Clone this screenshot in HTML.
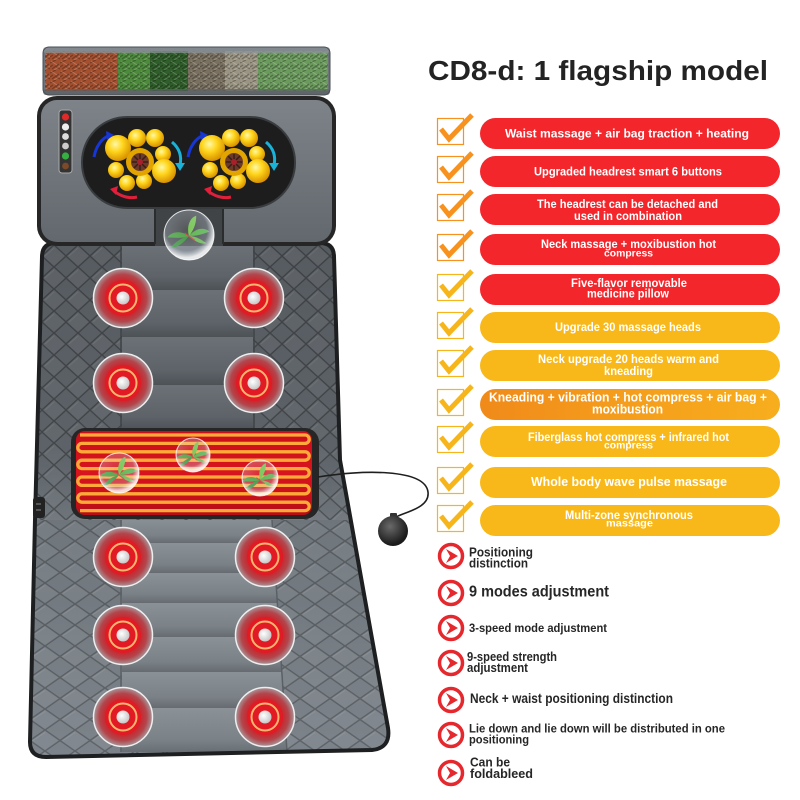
<!DOCTYPE html>
<html><head><meta charset="utf-8"><style>
html,body{margin:0;padding:0;background:#fff;}
svg{display:block;}
text{font-family:"Liberation Sans",sans-serif;font-weight:bold;}
</style></head><body>
<svg width="800" height="800" viewBox="0 0 800 800" xmlns="http://www.w3.org/2000/svg">
<defs>
 <linearGradient id="matg" x1="0" y1="0" x2="0" y2="1">
   <stop offset="0" stop-color="#565b60"/>
   <stop offset="0.4" stop-color="#5c6267"/>
   <stop offset="0.55" stop-color="#6f767c"/>
   <stop offset="1" stop-color="#7c838a"/>
 </linearGradient>
 <pattern id="quilt" width="24" height="22" patternUnits="userSpaceOnUse" x="42" y="245">
   <path d="M0,11 L12,0 L24,11 L12,22 Z" fill="rgba(255,255,255,0.04)" stroke="rgba(0,0,0,0.3)" stroke-width="1.4"/>
   <path d="M3,11 L12,3" stroke="rgba(255,255,255,0.07)" stroke-width="1" fill="none"/>
 </pattern>
 <pattern id="quilt2" width="30" height="21" patternUnits="userSpaceOnUse" x="30" y="520">
   <path d="M0,10.5 L15,0 L30,10.5 L15,21 Z" fill="rgba(255,255,255,0.05)" stroke="rgba(0,0,0,0.25)" stroke-width="1.4"/>
   <path d="M3,10.5 L15,2.5" stroke="rgba(255,255,255,0.09)" stroke-width="1" fill="none"/>
 </pattern>
 <clipPath id="matclip">
   <path d="M42,257 Q42,243 56,243 L320,243 Q334,243 334,257 L340,460 L388,728 Q391,748 372,750 L46,757 Q30,757 30,742 L35,520 Z"/>
 </clipPath>
 <linearGradient id="segU" x1="0" y1="0" x2="0" y2="1">
   <stop offset="0" stop-color="#6b7176"/><stop offset="0.7" stop-color="#5d6368"/><stop offset="1" stop-color="#4d5257"/>
 </linearGradient>
 <linearGradient id="segL" x1="0" y1="0" x2="0" y2="1">
   <stop offset="0" stop-color="#8a9197"/><stop offset="0.7" stop-color="#7a8187"/><stop offset="1" stop-color="#656b71"/>
 </linearGradient>
 <clipPath id="lowc"><polygon points="122,520 272,520 287,752 122,752"/></clipPath>
 <linearGradient id="headg" x1="0" y1="0" x2="0" y2="1">
   <stop offset="0" stop-color="#7d8388"/><stop offset="1" stop-color="#62686d"/>
 </linearGradient>
 <radialGradient id="ball" cx="0.4" cy="0.35" r="0.65">
   <stop offset="0" stop-color="#fff8a8"/><stop offset="0.45" stop-color="#ffd51c"/><stop offset="1" stop-color="#d99200"/>
 </radialGradient>
 <radialGradient id="node" cx="0.5" cy="0.5" r="0.5">
   <stop offset="0" stop-color="#d8222a"/><stop offset="0.6" stop-color="#c8282f"/><stop offset="0.8" stop-color="#b2464c"/><stop offset="1" stop-color="#a7979b"/>
 </radialGradient>
 <radialGradient id="dot" cx="0.4" cy="0.4" r="0.6">
   <stop offset="0" stop-color="#ffffff"/><stop offset="1" stop-color="#c8c8c8"/>
 </radialGradient>
 <radialGradient id="bub" cx="0.45" cy="0.4" r="0.55">
   <stop offset="0" stop-color="rgba(255,255,255,0.1)"/><stop offset="0.75" stop-color="rgba(210,220,235,0.3)"/><stop offset="1" stop-color="rgba(255,255,255,0.85)"/>
 </radialGradient>
 <radialGradient id="bulb" cx="0.4" cy="0.35" r="0.6">
   <stop offset="0" stop-color="#6a6a6a"/><stop offset="1" stop-color="#1b1b1b"/>
 </radialGradient>
 <linearGradient id="pad" x1="0" y1="0" x2="0" y2="1">
   <stop offset="0" stop-color="#c80f1a"/><stop offset="0.5" stop-color="#d8141e"/><stop offset="1" stop-color="#b80e18"/>
 </linearGradient>
 <linearGradient id="orangePill" x1="0" y1="0" x2="1" y2="0">
   <stop offset="0" stop-color="#f08a1a"/><stop offset="0.5" stop-color="#f59e1c"/><stop offset="1" stop-color="#f7ae1d"/>
 </linearGradient>
 <pattern id="tex" width="10" height="10" patternUnits="userSpaceOnUse">
   <path d="M0,3 L6,0 M2,9 L9,4 M5,6 L10,9 M0,7 L3,5" stroke="rgba(0,0,0,0.28)" stroke-width="1.2" fill="none"/>
   <path d="M1,1 L7,5 M4,10 L10,6" stroke="rgba(255,255,255,0.22)" stroke-width="1" fill="none"/>
 </pattern>
 <g id="leaf">
   <path d="M0,0 C-6,-4 -12,-3 -15,1 C-10,1 -5,2 0,0 Z" fill="#3d9a34"/>
   <path d="M0,0 C5,-6 11,-6 14,-3 C9,-1 5,0 0,0 Z" fill="#4aad3a"/>
   <path d="M0,0 C-2,-7 1,-13 5,-14 C5,-8 3,-4 0,0 Z" fill="#6cc045"/>
   <path d="M0,0 C-4,5 -9,9 -13,8 C-9,4 -5,1 0,0 Z" fill="#2f8a2d"/>
   <path d="M0,0 C4,4 9,6 12,5 C8,2 4,0 0,0 Z" fill="#5db43f"/>
   <path d="M-3,-2 L4,3" stroke="#c0392b" stroke-width="0.8"/>
 </g>
 <g id="nodeA">
  <circle cx="0" cy="0" r="29.5" fill="url(#node)" stroke="#eeeeee" stroke-width="1.5"/>
  <circle cx="0" cy="0" r="18" fill="#e11a24"/>
  <circle cx="0" cy="0" r="13.5" fill="none" stroke="#ffb470" stroke-width="2"/>
  <circle cx="0" cy="0" r="6.5" fill="url(#dot)"/>
 </g>
</defs>

<rect width="800" height="800" fill="#fff"/>

<!-- MAT -->
<path d="M42,257 Q42,243 56,243 L320,243 Q334,243 334,257 L340,460 L388,728 Q391,748 372,750 L46,757 Q30,757 30,742 L35,520 Z" fill="url(#matg)"/>
<g clip-path="url(#matclip)">
  <rect x="20" y="240" width="380" height="280" fill="url(#quilt)"/>
  <rect x="20" y="520" width="380" height="240" fill="url(#quilt2)"/>
  <rect x="122" y="245" width="131" height="45" fill="url(#segU)"/>
  <rect x="122" y="290" width="131" height="47" fill="url(#segU)"/>
  <rect x="122" y="337" width="131" height="48" fill="url(#segU)"/>
  <rect x="122" y="385" width="131" height="45" fill="url(#segU)"/>
  <line x1="121" y1="245" x2="121" y2="430" stroke="#3e4347" stroke-width="1.5"/>
  <line x1="254" y1="245" x2="254" y2="430" stroke="#3e4347" stroke-width="1.5"/>
  <g clip-path="url(#lowc)">
    <rect x="120" y="518" width="180" height="25" fill="url(#segL)"/>
    <rect x="120" y="543" width="180" height="30" fill="url(#segL)"/>
    <rect x="120" y="573" width="180" height="30" fill="url(#segL)"/>
    <rect x="120" y="603" width="180" height="34" fill="url(#segL)"/>
    <rect x="120" y="637" width="180" height="35" fill="url(#segL)"/>
    <rect x="120" y="672" width="180" height="36" fill="url(#segL)"/>
    <rect x="120" y="708" width="180" height="46" fill="url(#segL)"/>
  </g>
  <line x1="121" y1="520" x2="121" y2="752" stroke="#5a6066" stroke-width="1.5"/>
  <line x1="272" y1="520" x2="287" y2="752" stroke="#5a6066" stroke-width="1.5"/>
</g>
<path d="M42,257 Q42,243 56,243 L320,243 Q334,243 334,257 L340,460 L388,728 Q391,748 372,750 L46,757 Q30,757 30,742 L35,520 Z" fill="none" stroke="#1e1f20" stroke-width="4"/>

<!-- left connector -->
<rect x="33" y="497" width="12" height="21" rx="3" fill="#222"/>
<rect x="36" y="503" width="5" height="2" fill="#555"/>
<rect x="36" y="509" width="5" height="2" fill="#555"/>

<!-- HEADREST -->
<rect x="37" y="96" width="299" height="150" rx="20" fill="#262626"/>
<rect x="41" y="100" width="291" height="142" rx="16" fill="url(#headg)"/>
<rect x="155" y="200" width="68" height="46" fill="#404447"/>
<line x1="155" y1="205" x2="155" y2="244" stroke="#2a2c2e" stroke-width="2"/>
<line x1="223" y1="205" x2="223" y2="244" stroke="#2a2c2e" stroke-width="2"/>
<rect x="82" y="117" width="213" height="91" rx="45" fill="#1d1d1d" stroke="#3a3d40" stroke-width="2"/>

<!-- control panel -->
<rect x="59" y="110" width="13" height="63" rx="3" fill="#333" stroke="#aaa" stroke-width="1"/>
<circle cx="65.5" cy="117" r="3.6" fill="#e02a2a"/>
<circle cx="65.5" cy="127" r="3.6" fill="#eee"/>
<circle cx="65.5" cy="136.5" r="3.4" fill="#ddd"/>
<circle cx="65.5" cy="146" r="3.4" fill="#ccc"/>
<circle cx="65.5" cy="156" r="3.6" fill="#35b040"/>
<circle cx="65.5" cy="166" r="3.4" fill="#7a4a2a"/>

<!-- ball clusters -->
<g id="clusterL" transform="translate(140,162)">
  <path d="M-46,-5 C-44,-16 -38,-24 -30,-27" stroke="#1736d8" stroke-width="3" fill="none"/>
  <path d="M-34,-31 L-26,-27 L-33,-22 Z" fill="#1736d8"/>
  <path d="M32,-20 C39,-14 42,-6 40,3" stroke="#19b2d8" stroke-width="3" fill="none"/>
  <path d="M35,1 L40,9 L45,1 Z" fill="#19b2d8"/>
  <path d="M-3,35 C-11,37 -20,34 -26,29" stroke="#e0203a" stroke-width="3" fill="none"/>
  <path d="M-22,24 L-30,27 L-24,33 Z" fill="#e0203a"/>
  <circle cx="-22" cy="-14" r="13" fill="url(#ball)"/>
  <circle cx="-3" cy="-24" r="9" fill="url(#ball)"/>
  <circle cx="15" cy="-24" r="9" fill="url(#ball)"/>
  <circle cx="23" cy="-8" r="8" fill="url(#ball)"/>
  <circle cx="-24" cy="8" r="8" fill="url(#ball)"/>
  <circle cx="-13" cy="21" r="8" fill="url(#ball)"/>
  <circle cx="4" cy="19" r="8" fill="url(#ball)"/>
  <circle cx="0" cy="0" r="14" fill="#e2a400"/>
  <circle cx="0" cy="0" r="9" fill="#6b3a2a"/>
  <path d="M-8,0 L8,0 M0,-8 L0,8 M-6,-6 L6,6 M-6,6 L6,-6" stroke="#3a1e16" stroke-width="1.5"/>
  <circle cx="0" cy="0" r="3" fill="#a8202a"/>
  <circle cx="24" cy="9" r="12" fill="url(#ball)"/>
</g>
<use href="#clusterL" transform="translate(94,0)"/>

<!-- PILLOW -->
<rect x="43" y="47" width="287" height="48" rx="6" fill="#6d7378"/>
<rect x="45" y="51" width="73" height="40" fill="#a4502f"/>
<rect x="118" y="51" width="32" height="40" fill="#4d8a3c"/>
<rect x="150" y="51" width="38" height="40" fill="#2f5e2a"/>
<rect x="188" y="51" width="37" height="40" fill="#7a7060"/>
<rect x="225" y="51" width="33" height="40" fill="#9a9482"/>
<rect x="258" y="51" width="70" height="40" fill="#6a9a5c"/>
<rect x="45" y="51" width="283" height="40" fill="url(#tex)"/>
<rect x="43" y="47" width="287" height="6" rx="3" fill="rgba(140,148,152,0.7)"/>
<rect x="43" y="89" width="287" height="6" rx="3" fill="rgba(90,96,100,0.7)"/>
<rect x="43" y="47" width="287" height="48" rx="6" fill="none" stroke="#4a4f53" stroke-width="1"/>

<!-- neck bubble -->
<use href="#leaf" transform="translate(189,236) scale(1.45)"/>
<circle cx="189" cy="235" r="25" fill="url(#bub)" stroke="rgba(255,255,255,0.85)" stroke-width="1"/>

<!-- massage nodes -->
<use href="#nodeA" transform="translate(123,298)"/>
<use href="#nodeA" transform="translate(254,298)"/>
<use href="#nodeA" transform="translate(123,383)"/>
<use href="#nodeA" transform="translate(254,383)"/>
<use href="#nodeA" transform="translate(123,557)"/>
<use href="#nodeA" transform="translate(265,557)"/>
<use href="#nodeA" transform="translate(123,635)"/>
<use href="#nodeA" transform="translate(265,635)"/>
<use href="#nodeA" transform="translate(123,717)"/>
<use href="#nodeA" transform="translate(265,717)"/>

<!-- HEATING PAD -->
<rect x="71" y="428" width="248" height="91" rx="14" fill="#262626"/>
<rect x="76" y="431" width="236" height="84" rx="9" fill="url(#pad)"/>
<path d="M80,435 L305,435 A4.2,4.2 0 0 1 305,443.4 L82,443.4 A4.2,4.2 0 0 0 82,451.8 L305,451.8 A4.2,4.2 0 0 1 305,460.2 L82,460.2 A4.2,4.2 0 0 0 82,468.6 L305,468.6 A4.2,4.2 0 0 1 305,477 L82,477 A4.2,4.2 0 0 0 82,485.4 L305,485.4 A4.2,4.2 0 0 1 305,493.8 L82,493.8 A4.2,4.2 0 0 0 82,502.2 L305,502.2 A4.2,4.2 0 0 1 305,510.6 L80,510.6" fill="none" stroke="#ffaa38" stroke-width="3.3"/>
<use href="#leaf" transform="translate(119,475) scale(1.3)"/>
<circle cx="119" cy="473" r="20" fill="url(#bub)" stroke="rgba(255,255,255,0.8)" stroke-width="1"/>
<use href="#leaf" transform="translate(193,457) scale(1.1)"/>
<circle cx="193" cy="455" r="17" fill="url(#bub)" stroke="rgba(255,255,255,0.8)" stroke-width="1"/>
<use href="#leaf" transform="translate(260,480) scale(1.2)"/>
<circle cx="260" cy="478" r="18" fill="url(#bub)" stroke="rgba(255,255,255,0.8)" stroke-width="1"/>

<!-- cord & bulb -->
<path d="M318,477 C360,470 425,468 428,492 C430,508 405,512 396,517" fill="none" stroke="#1e1e1e" stroke-width="1.6"/>
<rect x="390" y="513" width="7" height="6" rx="1" fill="#333"/>
<circle cx="393" cy="531" r="15" fill="url(#bulb)"/>

<!-- TITLE -->
<text x="428" y="80" font-size="27.5" fill="#232323" textLength="340" lengthAdjust="spacingAndGlyphs">CD8-d: 1 flagship model</text>

<!-- CHECK ICONS -->
<g fill="none" stroke-linecap="butt" stroke-linejoin="miter">
  <g stroke="#f7921e">
    <rect x="437.5" y="118.5" width="26" height="26" stroke-width="1.2"/>
    <path d="M441,129 L449,139 L472,115" stroke-width="5"/>
    <rect x="437.5" y="156.5" width="26" height="26" stroke-width="1.2"/>
    <path d="M441,167 L449,177 L472,153" stroke-width="5"/>
    <rect x="437.5" y="194.5" width="26" height="26" stroke-width="1.2"/>
    <path d="M441,205 L449,215 L472,191" stroke-width="5"/>
    <rect x="437.5" y="234.5" width="26" height="26" stroke-width="1.2"/>
    <path d="M441,245 L449,255 L472,231" stroke-width="5"/>
  </g>
  <g stroke="#f7b51c">
    <rect x="437.5" y="274.5" width="26" height="26" stroke-width="1.2"/>
    <path d="M441,285 L449,295 L472,271" stroke-width="5"/>
    <rect x="437.5" y="312.5" width="26" height="26" stroke-width="1.2"/>
    <path d="M441,323 L449,333 L472,309" stroke-width="5"/>
    <rect x="437.5" y="350.5" width="26" height="26" stroke-width="1.2"/>
    <path d="M441,361 L449,371 L472,347" stroke-width="5"/>
    <rect x="437.5" y="389.5" width="26" height="26" stroke-width="1.2"/>
    <path d="M441,400 L449,410 L472,386" stroke-width="5"/>
    <rect x="437.5" y="426.5" width="26" height="26" stroke-width="1.2"/>
    <path d="M441,437 L449,447 L472,423" stroke-width="5"/>
    <rect x="437.5" y="467.5" width="26" height="26" stroke-width="1.2"/>
    <path d="M441,478 L449,488 L472,464" stroke-width="5"/>
    <rect x="437.5" y="505.5" width="26" height="26" stroke-width="1.2"/>
    <path d="M441,516 L449,526 L472,502" stroke-width="5"/>
  </g>
</g>

<!-- PILLS -->
<g>
  <rect x="480" y="118" width="300" height="31" rx="15.5" fill="#f3262c"/>
  <rect x="480" y="156" width="300" height="31" rx="15.5" fill="#f3262c"/>
  <rect x="480" y="194" width="300" height="31" rx="15.5" fill="#f3262c"/>
  <rect x="480" y="234" width="300" height="31" rx="15.5" fill="#f3262c"/>
  <rect x="480" y="274" width="300" height="31" rx="15.5" fill="#f3262c"/>
  <rect x="480" y="312" width="300" height="31" rx="15.5" fill="#f8b819"/>
  <rect x="480" y="350" width="300" height="31" rx="15.5" fill="#f8b819"/>
  <rect x="480" y="389" width="300" height="31" rx="15.5" fill="url(#orangePill)"/>
  <rect x="480" y="426" width="300" height="31" rx="15.5" fill="#f8b819"/>
  <rect x="480" y="467" width="300" height="31" rx="15.5" fill="#f8b819"/>
  <rect x="480" y="505" width="300" height="31" rx="15.5" fill="#f8b819"/>
</g>
<g fill="#ffffff" font-size="11.5">
  <text x="505" y="137.5" textLength="244" lengthAdjust="spacingAndGlyphs">Waist massage + air bag traction + heating</text>
  <text x="534" y="175.5" textLength="188" lengthAdjust="spacingAndGlyphs">Upgraded headrest smart 6 buttons</text>
  <text x="537" y="208" textLength="181" lengthAdjust="spacingAndGlyphs">The headrest can be detached and</text>
  <text x="574" y="220" textLength="108" lengthAdjust="spacingAndGlyphs">used in combination</text>
  <text x="541" y="248" textLength="175" lengthAdjust="spacingAndGlyphs">Neck massage + moxibustion hot</text>
  <text x="604" y="256.5" font-size="10.5" textLength="49" lengthAdjust="spacingAndGlyphs">compress</text>
  <text x="571" y="287" textLength="116" lengthAdjust="spacingAndGlyphs">Five-flavor removable</text>
  <text x="587" y="297.5" textLength="82" lengthAdjust="spacingAndGlyphs">medicine pillow</text>
  <text x="555" y="331" textLength="146" lengthAdjust="spacingAndGlyphs">Upgrade 30 massage heads</text>
  <text x="538" y="363" textLength="181" lengthAdjust="spacingAndGlyphs">Neck upgrade 20 heads warm and</text>
  <text x="604" y="375" textLength="49" lengthAdjust="spacingAndGlyphs">kneading</text>
  <text x="489" y="401.5" font-size="12.5" textLength="278" lengthAdjust="spacingAndGlyphs">Kneading + vibration + hot compress + air bag +</text>
  <text x="592" y="413.5" font-size="12.5" textLength="71" lengthAdjust="spacingAndGlyphs">moxibustion</text>
  <text x="528" y="441" textLength="201" lengthAdjust="spacingAndGlyphs">Fiberglass hot compress + infrared hot</text>
  <text x="604" y="448.5" font-size="10.5" textLength="49" lengthAdjust="spacingAndGlyphs">compress</text>
  <text x="531" y="486" font-size="13" textLength="196" lengthAdjust="spacingAndGlyphs">Whole body wave pulse massage</text>
  <text x="565" y="519" textLength="128" lengthAdjust="spacingAndGlyphs">Multi-zone synchronous</text>
  <text x="606" y="526.5" font-size="10.5" textLength="47" lengthAdjust="spacingAndGlyphs">massage</text>
</g>

<!-- BOTTOM LIST ICONS -->
<g fill="#fff" stroke="#e5282d" stroke-width="3.5">
  <circle cx="451" cy="556" r="11.5"/>
  <circle cx="451" cy="593" r="11.5"/>
  <circle cx="451" cy="628" r="11.5"/>
  <circle cx="451" cy="663" r="11.5"/>
  <circle cx="451" cy="700" r="11.5"/>
  <circle cx="451" cy="735" r="11.5"/>
  <circle cx="451" cy="773" r="11.5"/>
</g>
<g fill="#e5282d">
  <path d="M446,549 L458,556 L446,563 L450,556 Z"/>
  <path d="M446,586 L458,593 L446,600 L450,593 Z"/>
  <path d="M446,621 L458,628 L446,635 L450,628 Z"/>
  <path d="M446,656 L458,663 L446,670 L450,663 Z"/>
  <path d="M446,693 L458,700 L446,707 L450,700 Z"/>
  <path d="M446,728 L458,735 L446,742 L450,735 Z"/>
  <path d="M446,766 L458,773 L446,780 L450,773 Z"/>
</g>
<g fill="#262626" font-size="12.5">
  <text x="469" y="556.5" textLength="64" lengthAdjust="spacingAndGlyphs">Positioning</text>
  <text x="469" y="567.5" textLength="59" lengthAdjust="spacingAndGlyphs">distinction</text>
  <text x="469" y="596.5" font-size="15.5" textLength="140" lengthAdjust="spacingAndGlyphs">9 modes adjustment</text>
  <text x="469" y="632" font-size="12" textLength="138" lengthAdjust="spacingAndGlyphs">3-speed mode adjustment</text>
  <text x="467" y="661" textLength="90" lengthAdjust="spacingAndGlyphs">9-speed strength</text>
  <text x="467" y="672" textLength="61" lengthAdjust="spacingAndGlyphs">adjustment</text>
  <text x="470" y="703" font-size="13.5" textLength="203" lengthAdjust="spacingAndGlyphs">Neck + waist positioning distinction</text>
  <text x="469" y="732.5" font-size="12" textLength="256" lengthAdjust="spacingAndGlyphs">Lie down and lie down will be distributed in one</text>
  <text x="469" y="743.5" font-size="12" textLength="60" lengthAdjust="spacingAndGlyphs">positioning</text>
  <text x="470" y="766.5" font-size="13" textLength="40" lengthAdjust="spacingAndGlyphs">Can be</text>
  <text x="470" y="778" font-size="13" textLength="63" lengthAdjust="spacingAndGlyphs">foldableed</text>
</g>
</svg>
</body></html>
